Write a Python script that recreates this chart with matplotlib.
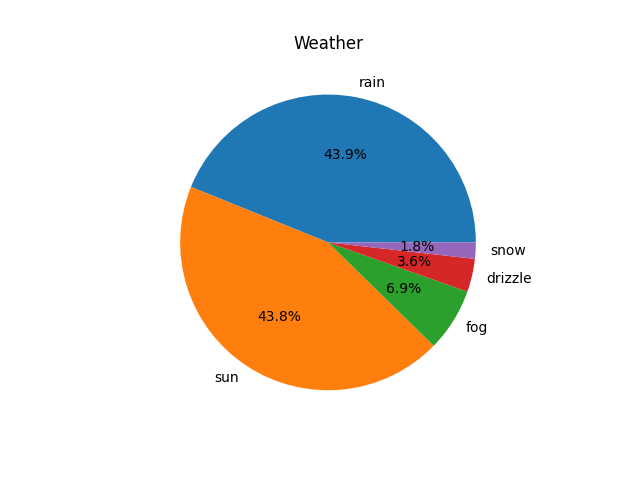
import matplotlib
matplotlib.use("Agg")
import matplotlib.pyplot as plt

labels = ["rain", "sun", "fog", "drizzle", "snow"]
counts = [641, 640, 101, 53, 26]

fig, ax = plt.subplots(figsize=(6.4, 4.8), dpi=100)
ax.pie(counts, labels=labels, autopct="%1.1f%%")
ax.set_title("Weather")
fig.savefig("out.png")
